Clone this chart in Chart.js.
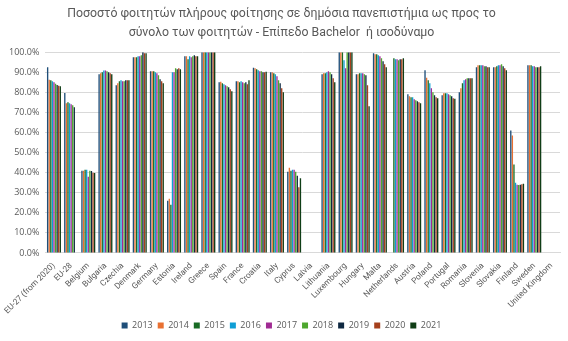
<!DOCTYPE html>
<html>
<head>
<meta charset="utf-8">
<script src="https://cdn.jsdelivr.net/npm/chart.js@4.4.1/dist/chart.umd.min.js"></script>
<style>
  html, body { margin: 0; padding: 0; background: #fff; }
  #wrap { width: 568px; height: 341px; }
</style>
</head>
<body>
<div id="wrap"><canvas id="c"></canvas></div>
<script>
// Share of full-time students in public universities, Bachelor level, by year

const countries = ['EU-27 (from 2020)', 'EU-28', 'Belgium', 'Bulgaria', 'Czechia', 'Denmark', 'Germany', 'Estonia',
  'Ireland', 'Greece', 'Spain', 'France', 'Croatia', 'Italy', 'Cyprus', 'Latvia', 'Lithuania', 'Luxembourg',
  'Hungary', 'Malta', 'Netherlands', 'Austria', 'Poland', 'Portugal', 'Romania', 'Slovenia', 'Slovakia',
  'Finland', 'Sweden', 'United Kingdom'];

const years = ['2013', '2014', '2015', '2016', '2017', '2018', '2019', '2020', '2021'];

const yearColors = ['#1f4e79', '#e97132', '#196b24', '#0f9ed5', '#a02b93', '#4ea72e', '#0e2841', '#a5401d', '#0f3d16'];

// one row per country, one value per year (2013..2021)
const euro27  = [92.5, 86.2, 86, 85.5, 85, 84.2, 83.6, 83.2, 83];
const euro28  = [79.7, 74.5, 75, 74.5, 74, 73.5, 72.5, null, null];
const belgium = [41, 41, 41.5, 41.5, 38, 41, 40.8, 40, 39.8];
const bulgaria = [89, 89.5, 90, 90.8, 90.8, 90.5, 90, 89.5, 89];
const czechia = [83.5, 84.5, 85.5, 86, 85.5, 85.5, 86, 86, 86];
const denmark = [97.5, 97.5, 97.5, 98, 98, 98.5, 100, 99.5, 99.5];
const germany = [90.5, 90.5, 90.5, 90, 89.5, 88.5, 86.5, 85.5, 84.5];
const estonia = [26, 27, 24, 90, 90, 92, 91.5, 92, 91.5];
const ireland = [98, 98, 96.5, 98, 97.5, 98, 98.5, 98, 98];
const greece  = [100, 100, 100, 100, 100, 100, 100, 100, 100];
const spain   = [85, 85.2, 84.5, 84, 83.5, 83, 82.5, 81.5, 80.5];
const france  = [85.5, 85.5, 85, 85.5, 85, 84.5, 85, 84, 86];
const croatia = [92.2, 92, 91.5, 91, 90.5, 90.5, 90, 90, 90.2];
const italy   = [90, 90, 89.5, 89, 88, 86, 84.5, 82, 80];
const cyprus  = [40.5, 42.5, 41, 41.5, 41.5, 40.5, 38.5, 32.7, 37.2];
const latvia  = [null, null, null, null, null, null, null, null, null];
const lithuania = [89, 89.5, 89.5, 90, 90.5, 90, 89, 87, 85];
const luxembourg = [100, 100, 100, 96, 92, 100, 100, 100, 100];
const hungary = [89, 89, 89.5, 89.5, 89.5, 89, 88.5, 83.5, 73];
const malta   = [99.5, 99, 99, 98.5, 98, 97, 95.5, 94, 92.5];
const netherlands = [null, null, 97, 96.5, 96.5, 96, 96.5, 96.5, 97];
const austria = [79, 78, 77.5, 77.5, 76.5, 76, 75.5, 75, 74.5];
const poland  = [91, 87.2, 86, 84.5, 82, 80, 78.5, 77.5, 77];
const portugal = [78.5, 79.5, 79.5, 79.5, 79, 78.5, 78, 77, 76.8];
const romania = [80, 82, 84.5, 86, 86.5, 87, 87, 87, 87];
const slovenia = [92.5, 93.5, 93.5, 93.5, 93.5, 93, 93, 92.5, 92.5];
const slovakia = [92.5, 92.5, 93, 93.5, 93.5, 94, 93, 92, 91];
const finland = [61, 58.5, 44, 35, 34, 33.8, 34, 34.2, 34.5];
const sweden  = [93.5, 93.5, 93.5, 93, 93, 92.5, 92.5, 92.5, 93];
const uk      = [null, null, null, null, null, null, null, null, null];

const rows = [euro27, euro28, belgium, bulgaria, czechia, denmark, germany, estonia, ireland, greece,
  spain, france, croatia, italy, cyprus, latvia, lithuania, luxembourg, hungary, malta, netherlands,
  austria, poland, portugal, romania, slovenia, slovakia, finland, sweden, uk];

const yTicks = [0, 10, 20, 30, 40, 50, 60, 70, 80, 90, 100];

const TXT = '#595959';
const FONT = "'Open Sans', 'Noto Sans', sans-serif";
const NARROW = "Roboto, 'Open Sans', sans-serif";

const datasets = years.map((y, i) => ({
  label: y,
  data: rows.map(r => r[i]),
  backgroundColor: yearColors[i],
  borderWidth: 0,
  categoryPercentage: 0.83,
  barPercentage: 0.85
}));

new Chart(document.getElementById('c'), {
  type: 'bar',
  data: { labels: countries, datasets },
  options: {
    responsive: true,
    maintainAspectRatio: false,
    animation: false,
    layout: { padding: { left: 3, right: 8, top: 0, bottom: 1 } },
    plugins: {
      title: {
        display: true,
        text: ['Ποσοστό φοιτητών πλήρους φοίτησης σε δημόσια πανεπιστήμια ως προς το',
               'σύνολο των φοιτητών - Επίπεδο Bachelor  ή ισοδύναμο'],
        color: TXT,
        font: { family: NARROW, size: 12.3, weight: 'normal', lineHeight: 1.55 },
        padding: { top: 4, bottom: 10 }
      },
      legend: {
        position: 'bottom',
        labels: { color: TXT, boxWidth: 6, boxHeight: 6, padding: 5, font: { family: FONT, size: 9 } }
      },
      tooltip: { enabled: false }
    },
    scales: {
      x: {
        grid: { display: false },
        border: { color: '#d9d9d9' },
        ticks: { color: TXT, font: { family: NARROW, size: 8.3 }, maxRotation: 45, minRotation: 45, autoSkip: false, padding: 0 }
      },
      y: {
        min: 0, max: 100,
        afterBuildTicks: axis => { axis.ticks = yTicks.map(v => ({ value: v })); },
        grid: { color: '#d9d9d9', drawTicks: false },
        border: { display: false },
        ticks: { color: TXT, font: { family: FONT, size: 9 }, padding: 6, callback: v => v.toFixed(1) + '%' }
      }
    }
  }
});
</script>
</body>
</html>
